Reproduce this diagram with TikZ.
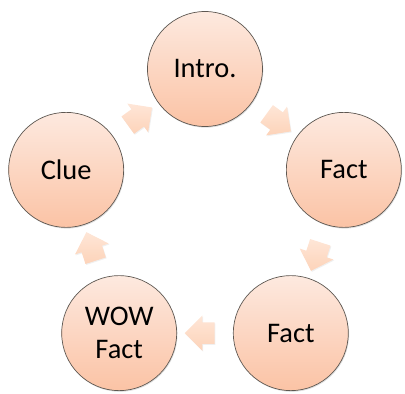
\documentclass[tikz,border=0pt]{standalone}
\usepackage{fontspec}
\setmainfont{Carlito}
\usetikzlibrary{shapes.arrows,shadows,calc}
\definecolor{circtop}{HTML}{FDE9DF}
\definecolor{circbot}{HTML}{FBC3A5}
\definecolor{arrtop}{HTML}{FEE6D7}
\definecolor{arrbot}{HTML}{FDD3B9}
\definecolor{rimcol}{HTML}{5E5852}
\begin{document}
\begin{tikzpicture}[x=1bp,y=1bp,
  stage/.style={circle, minimum size=115bp, inner sep=0pt,
    top color=circtop, bottom color=circbot, draw=rimcol, line width=0.7bp,
    drop shadow={opacity=0.25, shadow xshift=0.8bp, shadow yshift=-1.2bp},
    font=\fontsize{28.5}{33}\selectfont, align=center, text=black},
  cyc/.style={single arrow, minimum height=30bp,
    single arrow head extend=7bp, inner sep=0pt,
    top color=arrtop, bottom color=arrbot, draw=none,
    drop shadow={opacity=0.12, shadow xshift=0.8bp, shadow yshift=-1bp}}]
\useasboundingbox (0,0) rectangle (405,394);
\coordinate (c) at (205,179);
\node[stage] (intro) at ([shift={(90:146)}]c) {Intro.};
\node[stage] (fact1) at ([shift={(18:146)}]c) {Fact};
\node[stage] (fact2) at ([shift={(-54:146)}]c) {Fact};
\node[stage] (wow) at ([shift={(-126:146)}]c) {WOW\\Fact};
\node[stage] (clue) at ([shift={(162:146)}]c) {Clue};
\node[cyc, rotate=-36] (a1) at ($(intro)!0.5!(fact1)$) {\rule{0pt}{21bp}};
\node[cyc, rotate=-108] (a2) at ($(fact1)!0.5!(fact2)$) {\rule{0pt}{21bp}};
\node[cyc, rotate=180] (a3) at ($(fact2)!0.5!(wow)$) {\rule{0pt}{21bp}};
\node[cyc, rotate=108] (a4) at ($(wow)!0.5!(clue)$) {\rule{0pt}{21bp}};
\node[cyc, rotate=36] (a5) at ($(clue)!0.5!(intro)$) {\rule{0pt}{21bp}};
\end{tikzpicture}
\end{document}
